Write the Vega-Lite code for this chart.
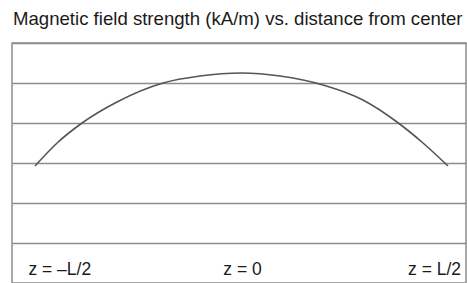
{
  "$schema": "https://vega.github.io/schema/vega-lite/v6.json",
  "autosize": {"type": "none"},
  "width": 454,
  "height": 240,
  "padding": {"left": 12, "top": 43, "right": 1, "bottom": 0},
  "background": "white",
  "title": {
    "text": "Magnetic field strength (kA/m) vs. distance from center",
    "anchor": "start",
    "frame": "group",
    "offset": 14,
    "dx": 1,
    "font": "Liberation Sans",
    "fontSize": 18.6,
    "fontWeight": "normal",
    "color": "#1a1a1a"
  },
  "config": {
    "view": {"stroke": "#8c8c8c", "strokeWidth": 1.5}
  },
  "datasets": {
    "curve": [
      {"z": -1.0, "H": 2.925},
      {"z": -0.893, "H": 3.5},
      {"z": -0.772, "H": 4.0},
      {"z": -0.603, "H": 4.525},
      {"z": -0.38, "H": 5.0},
      {"z": -0.201, "H": 5.175},
      {"z": 0.0, "H": 5.25},
      {"z": 0.186, "H": 5.175},
      {"z": 0.395, "H": 4.95},
      {"z": 0.588, "H": 4.575},
      {"z": 0.753, "H": 4.025},
      {"z": 0.879, "H": 3.5},
      {"z": 1.0, "H": 2.925}
    ],
    "labels": [
      {"z": -0.88, "H": 0.2, "label": "z = –L/2"},
      {"z": 0.005, "H": 0.2, "label": "z = 0"},
      {"z": 0.935, "H": 0.2, "label": "z = L/2"}
    ]
  },
  "layer": [
    {
      "data": {"name": "curve"},
      "mark": {"type": "line", "color": "#555555", "strokeWidth": 1.6, "interpolate": "monotone"},
      "encoding": {
        "x": {
          "field": "z", "type": "quantitative",
          "scale": {"domain": [-1.1114, 1.0872], "nice": false, "zero": false},
          "axis": null
        },
        "y": {
          "field": "H", "type": "quantitative",
          "scale": {"domain": [0, 6], "nice": false},
          "axis": {
            "values": [1, 2, 3, 4, 5, 6],
            "grid": true,
            "gridColor": "#8c8c8c",
            "gridWidth": 1.5,
            "gridOpacity": 1,
            "labels": false,
            "ticks": false,
            "domain": false,
            "title": null
          }
        }
      }
    },
    {
      "data": {"name": "labels"},
      "mark": {"type": "text", "align": "center", "baseline": "alphabetic", "font": "Liberation Sans", "fontSize": 17.5, "color": "#1a1a1a"},
      "encoding": {
        "x": {"field": "z", "type": "quantitative"},
        "y": {"field": "H", "type": "quantitative"},
        "text": {"field": "label"}
      }
    }
  ]
}
